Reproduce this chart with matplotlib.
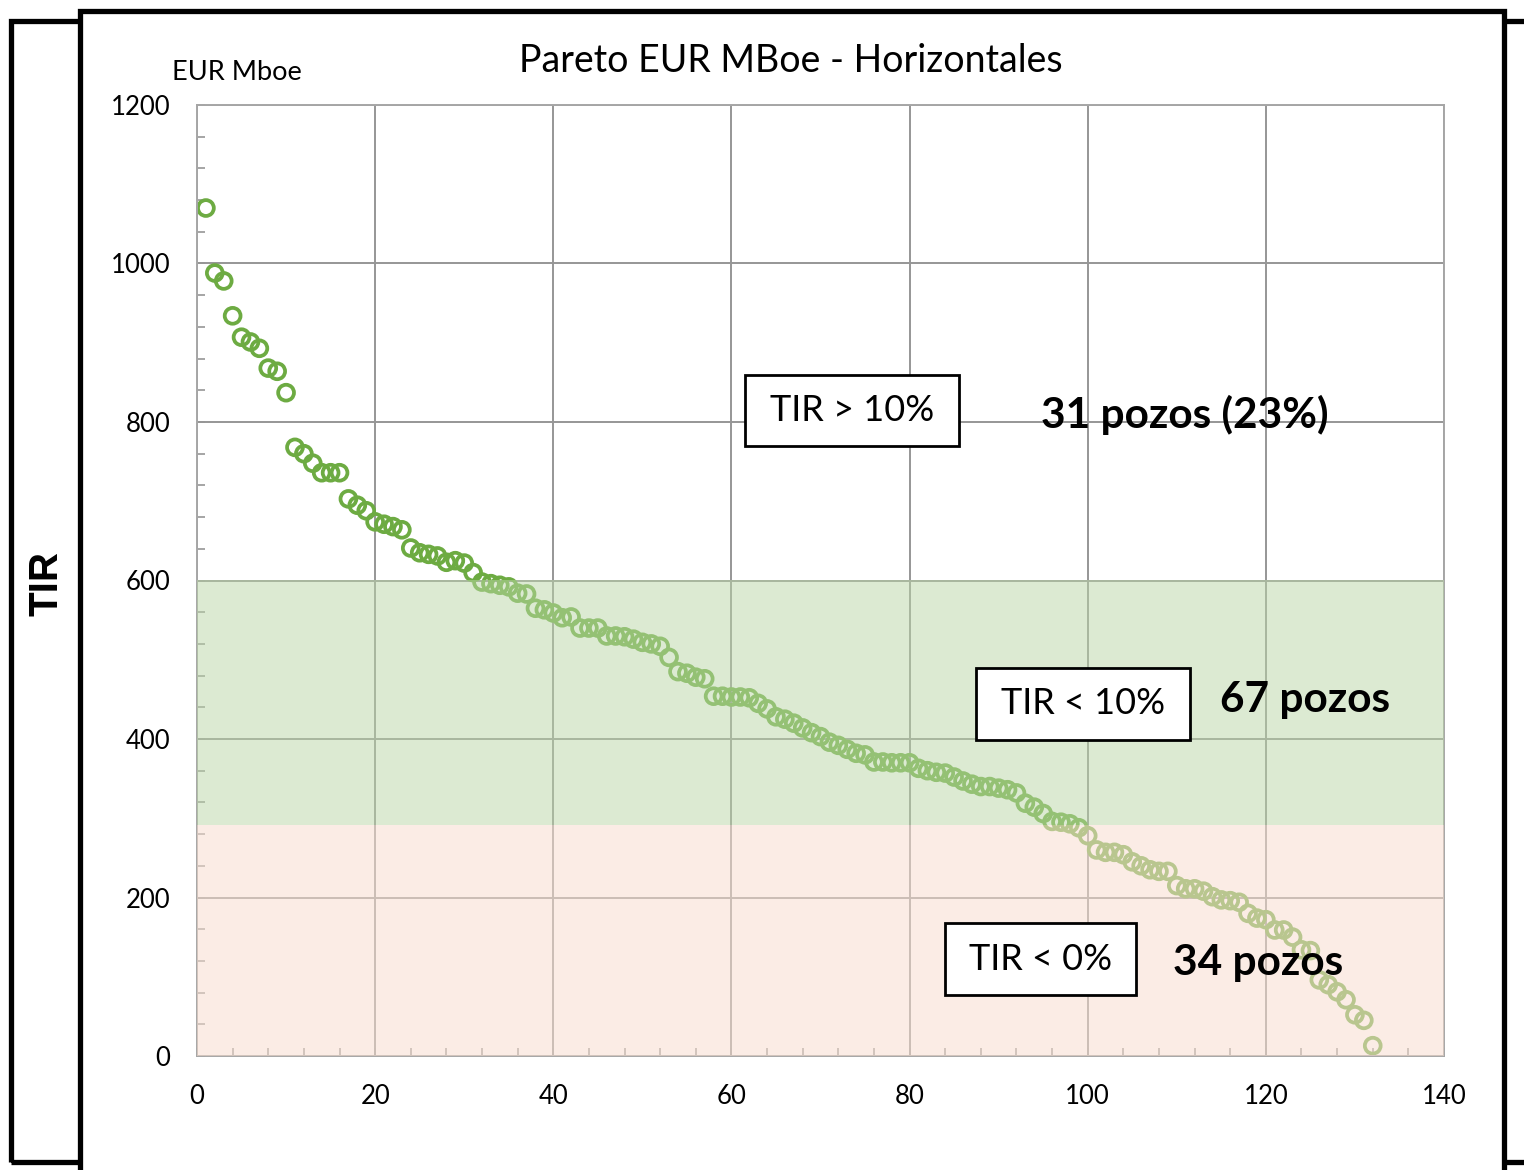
import matplotlib
matplotlib.use("Agg")
import matplotlib.pyplot as plt
from matplotlib.patches import Rectangle
from matplotlib.ticker import MultipleLocator
import numpy as np

# EUR per well, sorted (Pareto)
eur = [1070, 988, 978, 934, 907, 901, 893, 868, 864, 837,
       768, 760, 748, 736, 736, 736, 703, 695, 688, 674,
       671, 668, 664, 641, 635, 633, 631, 623, 625, 622,
       610, 598, 596, 594, 592, 584, 583, 565, 563, 559,
       553, 554, 540, 540, 540, 530, 530, 529, 526, 522,
       520, 517, 503, 485, 483, 478, 476, 454, 454, 453,
       453, 452, 445, 438, 428, 425, 420, 414, 408, 403,
       396, 392, 387, 382, 380, 371, 371, 370, 370, 370,
       363, 360, 358, 357, 352, 347, 343, 340, 340, 338,
       336, 332, 319, 314, 306, 296, 295, 293, 288, 278,
       260, 257, 257, 254, 245, 240, 235, 233, 233, 215,
       211, 211, 208, 201, 197, 196, 194, 180, 174, 172,
       159, 159, 150, 134, 133, 96, 90, 81, 71, 52,
       45, 13]
well_no = np.arange(1, len(eur) + 1)

band_green = (292, 600)
band_pink = (0, 292)

W, H = 1524, 1170
fig = plt.figure(figsize=(W / 100, H / 100), dpi=100)
FONT = "Lato"


def fx(px):
    return px / W


def fy(py):
    return 1 - py / H


# screenshot frames
fig.add_artist(Rectangle((fx(11), fy(1162)), fx(1600) - fx(11), fy(21) - fy(1162),
                         transform=fig.transFigure, fill=False, ec="black", lw=3.8, zorder=-2))
fig.add_artist(Rectangle((fx(80), fy(1200)), fx(1504) - fx(80), fy(10.5) - fy(1200),
                         transform=fig.transFigure, fc="white", ec="black", lw=3.8, zorder=-1))

ax = fig.add_axes([fx(197), fy(1056), fx(1444) - fx(197), fy(105) - fy(1056)])
ax.set_axisbelow(True)
ax.scatter(well_no, eur, s=130, facecolors="none", edgecolors="#6DAB42",
           linewidths=2.7, zorder=2, clip_on=False)
ax.axhspan(*band_green, color="#BBD7A7", alpha=0.5, lw=0, zorder=3)
ax.axhspan(*band_pink, color="#F8DED0", alpha=0.55, lw=0, zorder=3)

ax.set_xlim(0, 140)
ax.set_ylim(0, 1200)
ax.xaxis.set_major_locator(MultipleLocator(20))
ax.xaxis.set_minor_locator(MultipleLocator(4))
ax.yaxis.set_major_locator(MultipleLocator(200))
ax.yaxis.set_minor_locator(MultipleLocator(40))
ax.grid(True, which="major", color="#969696", lw=1.4)
ax.tick_params(which="both", direction="in", color="#969696", width=1.2, length=6,
               top=False, right=False)
ax.tick_params(axis="x", pad=20, labelsize=18.5)
ax.tick_params(axis="y", pad=19, labelsize=18.5)
for lab in ax.get_xticklabels() + ax.get_yticklabels():
    lab.set_family(FONT)
for sp in ax.spines.values():
    sp.set_color("#A6A6A6")
    sp.set_linewidth(1.4)

fig.text(fx(791), fy(61), "Pareto EUR MBoe - Horizontales", ha="center", va="center",
         fontsize=27, family=FONT)
fig.text(fx(172), fy(73), "EUR Mboe", ha="left", va="center", fontsize=19.5, family=FONT)
fig.text(fx(46), fy(583), "TIR", ha="center", va="center", rotation=90,
         fontsize=29, fontweight="bold", family="Liberation Sans")

boxes = [((745, 375, 959, 446), "TIR > 10%"),
         ((976, 668, 1190, 740), "TIR < 10%"),
         ((945, 923, 1136, 995), "TIR < 0%")]
for (x0, y0, x1, y1), txt in boxes:
    fig.add_artist(Rectangle((fx(x0), fy(y1)), fx(x1) - fx(x0), fy(y0) - fy(y1),
                             transform=fig.transFigure, fc="white", ec="black", lw=2, zorder=4))
    fig.text(fx((x0 + x1) / 2), fy((y0 + y1) / 2), txt, ha="center", va="center",
             fontsize=26, family=FONT, zorder=5)

fig.text(fx(1041), fy(415), "31 pozos (23%)", ha="left", va="center",
         fontsize=30.5, fontweight="bold", family=FONT, zorder=5)
fig.text(fx(1220), fy(700), "67 pozos", ha="left", va="center",
         fontsize=30.5, fontweight="bold", family=FONT, zorder=5)
fig.text(fx(1173), fy(963), "34 pozos", ha="left", va="center",
         fontsize=30.5, fontweight="bold", family=FONT, zorder=5)

fig.savefig("out.png", dpi=100)
